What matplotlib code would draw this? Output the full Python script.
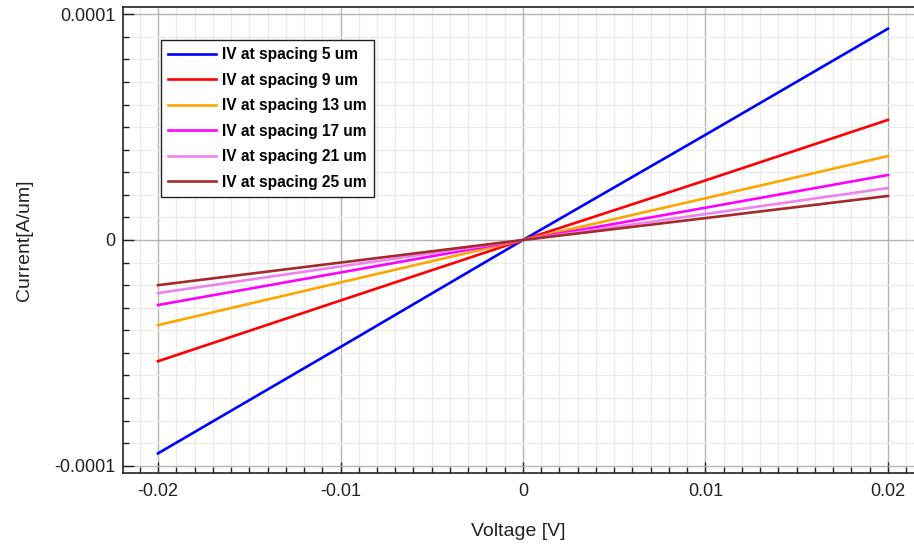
import numpy as np
import matplotlib
matplotlib.use("Agg")
import matplotlib.pyplot as plt
from matplotlib import ticker

plt.rcParams['font.family'] = ['Liberation Sans', 'DejaVu Sans']

voltage = [-0.02, -0.01, 0.0, 0.01, 0.02]
i_5um = [-9.45e-5, -4.74e-5, 0.0, 4.66e-5, 9.36e-5]
i_9um = [-5.37e-5, -2.68e-5, 0.0, 2.64e-5, 5.32e-5]
i_13um = [-3.77e-5, -1.88e-5, 0.0, 1.85e-5, 3.72e-5]
i_17um = [-2.88e-5, -1.44e-5, 0.0, 1.43e-5, 2.88e-5]
i_21um = [-2.35e-5, -1.17e-5, 0.0, 1.15e-5, 2.30e-5]
i_25um = [-2.00e-5, -1.00e-5, 0.0, 0.97e-5, 1.95e-5]

series = [i_5um, i_9um, i_13um, i_17um, i_21um, i_25um]
labels = ['IV at spacing 5 um', 'IV at spacing 9 um', 'IV at spacing 13 um',
          'IV at spacing 17 um', 'IV at spacing 21 um', 'IV at spacing 25 um']
colors = ['#0000ff', '#ff0000', '#ffa500', '#ff00ff', '#ee82ee', '#a52a2a']

fig = plt.figure(figsize=(9.14, 5.46), dpi=100)
ax = fig.add_axes([123/914, 1 - 473/546, 791/914, 466/546])

for y, lab, c in zip(series, labels, colors):
    ax.plot(voltage, y, color=c, lw=1.9, label=lab)

ax.set_xlim(-0.021918, 0.021425)
ax.set_ylim(-1.032e-4, 1.032e-4)

ax.xaxis.set_major_locator(ticker.FixedLocator([-0.02, -0.01, 0, 0.01, 0.02]))
ax.xaxis.set_minor_locator(ticker.MultipleLocator(0.001))
ax.yaxis.set_major_locator(ticker.FixedLocator([-1e-4, 0, 1e-4]))
ax.yaxis.set_minor_locator(ticker.MultipleLocator(1e-5))
ax.set_xticklabels(['-0.02', '-0.01', '0', '0.01', '0.02'])
ax.set_yticklabels(['-0.0001', '0', '0.0001'])

ax.grid(which='major', color='#b4b4b4', lw=1.0)
ax.grid(which='minor', color='#ebebeb', lw=1.0)
ax.set_axisbelow(True)

ax.tick_params(which='major', direction='in', length=8, width=1, color='#222222',
               labelsize=13, labelcolor='#222222')
ax.tick_params(which='minor', direction='in', length=4, width=1, color='#222222')
ax.tick_params(axis='y', which='major', pad=5.5)
ax.tick_params(axis='x', which='major', pad=7.5)

for s in ['left', 'bottom', 'top']:
    ax.spines[s].set_color('#222222')
    ax.spines[s].set_linewidth(1.2)
ax.spines['right'].set_visible(False)

ax.set_xlabel('Voltage [V]', fontsize=14, color='#222222', labelpad=16)
ax.set_ylabel('Current[A/um]', fontsize=14, color='#222222', labelpad=15)

leg = ax.legend(loc='upper left', bbox_to_anchor=((161-123)/791, (473-40)/466),
                borderaxespad=0, fancybox=False, framealpha=1, edgecolor='#222222',
                prop={'weight': 'bold', 'size': 11.2}, handlelength=3.1,
                labelspacing=0.68, handletextpad=0.4, borderpad=0.45)
leg.get_frame().set_linewidth(1.0)

fig.savefig('out.png', dpi=100)
